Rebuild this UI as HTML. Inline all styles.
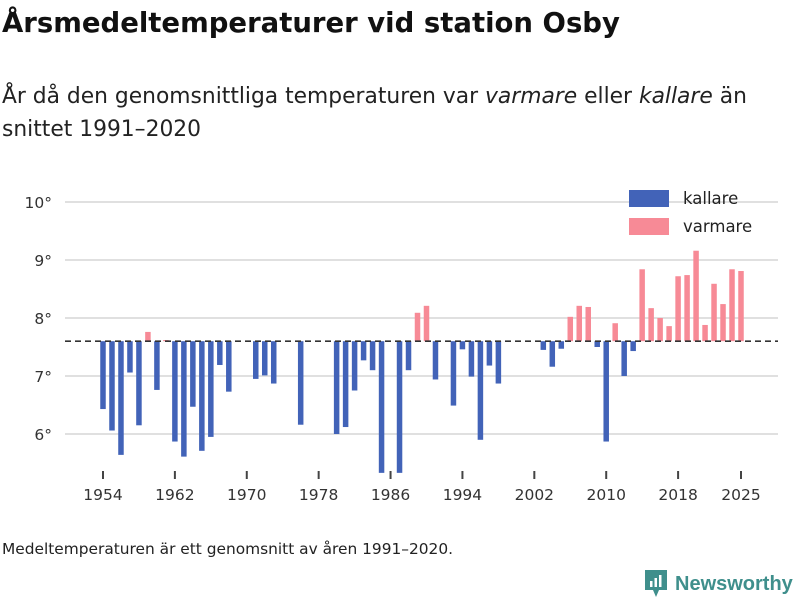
<!DOCTYPE html>
<html><head><meta charset="utf-8"><style>
body{margin:0;background:#fff;font-family:"DejaVu Sans","Liberation Sans",sans-serif;}
#wrap{position:relative;width:800px;height:600px;overflow:hidden;}
h1{position:absolute;left:2px;top:7px;margin:0;font-size:27.5px;font-weight:bold;color:#111;white-space:nowrap;}
.sub{position:absolute;left:2px;top:80px;margin:0;font-size:21.8px;line-height:33px;color:#222;width:790px;}
.foot{position:absolute;left:2px;top:540px;font-size:15.4px;color:#222;white-space:nowrap;}
.logo{position:absolute;left:645px;top:570px;display:flex;align-items:center;gap:8px;color:#3f8f8c;font-size:20px;font-weight:bold;font-family:"Liberation Sans",sans-serif;}
</style></head><body><div id="wrap">
<h1>Årsmedeltemperaturer vid station Osby</h1>
<p class="sub">År då den genomsnittliga temperaturen var <i>varmare</i> eller <i>kallare</i> än<br>snittet 1991–2020</p>
<svg id="chart" width="800" height="600" style="position:absolute;left:0;top:0"></svg>
<div class="foot">Medeltemperaturen är ett genomsnitt av åren 1991–2020.</div>
<div class="logo"><svg width="22" height="28" viewBox="0 0 22 28"><path d="M0 0H22V20H14L11 27L8 20H0Z" fill="#3f8f8c"/><rect x="5" y="11" width="2.5" height="6" fill="#fff"/><rect x="9.5" y="8" width="2.5" height="9" fill="#fff"/><rect x="14" y="5" width="2.5" height="12" fill="#fff"/></svg><span>Newsworthy</span></div>
</div>
<script>
const years=[1954,1955,1956,1957,1958,1959,1960,1961,1962,1963,1964,1965,1966,1967,1968,1969,1970,1971,1972,1973,1974,1975,1976,1977,1978,1979,1980,1981,1982,1983,1984,1985,1986,1987,1988,1989,1990,1991,1992,1993,1994,1995,1996,1997,1998,1999,2000,2001,2002,2003,2004,2005,2006,2007,2008,2009,2010,2011,2012,2013,2014,2015,2016,2017,2018,2019,2020,2021,2022,2023,2024,2025];
const temps=[6.43,6.06,5.64,7.06,6.15,7.76,6.76,7.62,5.87,5.61,6.47,5.71,5.95,7.19,6.73,null,null,6.95,7.01,6.87,null,null,6.16,null,null,null,6.0,6.12,6.75,7.27,7.1,5.33,null,5.33,7.1,8.09,8.21,6.94,null,6.49,7.46,6.99,5.9,7.18,6.87,null,null,null,null,7.45,7.16,7.47,8.02,8.21,8.19,7.5,5.87,7.91,7.0,7.43,8.84,8.17,8.0,7.86,8.72,8.74,9.16,7.88,8.59,8.24,8.84,8.81];
const baseline=7.6;
const yTicks=[6,7,8,9,10];
const xTicks=[1954,1962,1970,1978,1986,1994,2002,2010,2018,2025];
const NS="http://www.w3.org/2000/svg";
const svg=document.getElementById('chart');
const FF='DejaVu Sans, Liberation Sans, sans-serif';
const y=v=>318-(v-8)*58;
const x=yr=>103+(yr-1954)*(638/71);
function mk(t,a){const e=document.createElementNS(NS,t);for(const k in a)e.setAttribute(k,a[k]);svg.appendChild(e);return e;}
yTicks.forEach(t=>{
 const g=mk('line',{x1:65,x2:778,y1:y(t),y2:y(t),stroke:'#e0e0e0','stroke-width':2});
 
 
 const l=mk('text',{x:52,y:y(t)+6,'text-anchor':'end','font-size':15.5,fill:'#333','font-family':FF});
 l.textContent=t+'°';
 
 
});
years.forEach((yr,i)=>{
 const v=temps[i]; if(v==null) return;
 const top=Math.min(y(v),y(baseline)),h=Math.abs(y(v)-y(baseline));
 const r=mk('rect',{x:x(yr)-2.75,y:top,width:5.5,height:Math.max(h,1),fill:v>=baseline?'#f78a96':'#4263b8'});
 
 
});
const d=mk('line',{x1:65,x2:778,y1:y(baseline),y2:y(baseline),stroke:'#333','stroke-width':1.6,'stroke-dasharray':'6,4'});


xTicks.forEach(t=>{
 const k=mk('line',{x1:x(t),x2:x(t),y1:471,y2:479,stroke:'#444','stroke-width':2});
 
 
 const l=mk('text',{x:x(t),y:500,'text-anchor':'middle','font-size':15.5,fill:'#333','font-family':FF});
 l.textContent=t;
 
 
});
[['kallare','#4263b8',190],['varmare','#f78a96',218]].forEach(([n,c,yy])=>{
 const r=mk('rect',{x:629,y:yy,width:40,height:17,fill:c});
 
 
 const t=mk('text',{x:683,y:yy+14,'font-size':16.5,fill:'#222','font-family':FF});
 t.textContent=n;
 
 
});
</script></body></html>
